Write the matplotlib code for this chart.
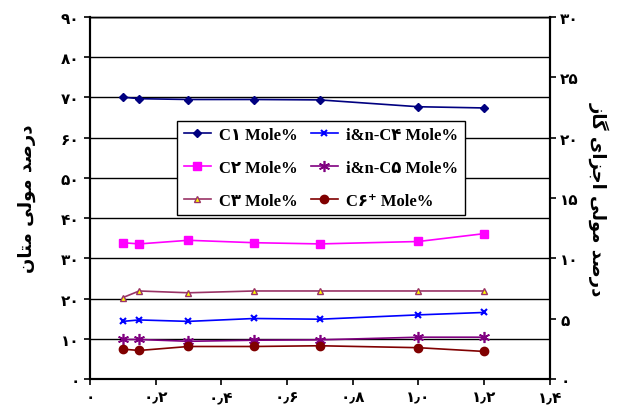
import matplotlib
matplotlib.use('Agg')
import matplotlib.pyplot as plt

# x positions and mole percent values
x = [0.1, 0.15, 0.3, 0.5, 0.7, 1.0, 1.2]
c1 = [70.1, 69.7, 69.5, 69.5, 69.4, 67.7, 67.4]      # left axis
c2 = [11.3, 11.2, 11.5, 11.3, 11.2, 11.4, 12.05]      # right axis
c3 = [6.75, 7.3, 7.15, 7.3, 7.3, 7.3, 7.3]
c4 = [4.78, 4.9, 4.78, 5.02, 4.96, 5.32, 5.52]
c5 = [3.28, 3.28, 3.13, 3.22, 3.25, 3.47, 3.47]
c6 = [2.48, 2.37, 2.7, 2.7, 2.76, 2.6, 2.29]

fa = '۰۱۲۳۴۵۶۷۸۹'
def fdig(s):
    return ''.join(fa[int(ch)] if ch.isdigit() else ch for ch in s)

left_ticks = list(range(0, 91, 10))
right_ticks = list(range(0, 31, 5))
x_ticks = [0, 0.2, 0.4, 0.6, 0.8, 1.0, 1.2, 1.4]
x_labels = ['۰'] + [fdig('%.1f' % v).replace('.', '٫') for v in x_ticks[1:]]

# pre-shaped Persian labels (visual order, presentation forms)
ylabel_left = '\uFEE5\uFE8E\uFE98\uFEE3 \uFBFD\uFEDF\uFEEE\uFEE3 \uFEAA\uFEBB\uFEAD\uFEA9'
ylabel_right = '\uFEAF\uFE8E\uFB94 \uFBFC\uFE8D\uFEB0\uFE9F\uFE8D \uFBFD\uFEDF\uFEEE\uFEE3 \uFEAA\uFEBB\uFEAD\uFEA9'

fig = plt.figure(figsize=(6.29, 4.10), dpi=100)
ax = fig.add_axes([0.143, 0.073, 0.731, 0.883])
ax2 = ax.twinx()

ax.set_xlim(0, 1.4)
ax.set_ylim(0, 90)
ax2.set_ylim(0, 30)

for v in left_ticks[1:]:
    ax.axhline(v, color='black', lw=1.0, zorder=0)

l1, = ax.plot(x, c1, color='#000080', marker='D', ms=4.5, lw=1.2, label='C۱ Mole%')
l2, = ax2.plot(x, c2, color='#FF00FF', marker='s', ms=6, lw=1.2, label='C۲ Mole%')
l3, = ax2.plot(x, c3, color='#993366', marker='^', ms=5, mfc='#FFFF00', mec='#993366', lw=1.2, label='C۳ Mole%')
l4, = ax2.plot(x, c4, color='#0000FF', marker='x', ms=5, mew=1.5, lw=1.2, label='i&n-C۴ Mole%')
l5, = ax2.plot(x, c5, color='#800080', marker=(6, 2, 0), ms=8, mew=1.2, lw=1.2, label='i&n-C۵ Mole%')
l6, = ax2.plot(x, c6, color='#800000', marker='o', ms=6, lw=1.2, label='C۶⁺ Mole%')

tickfont = dict(family='DejaVu Sans', weight='bold', size=11)
ax.set_yticks(left_ticks)
ax.set_yticklabels([fdig(str(v)) for v in left_ticks], **tickfont)
ax2.set_yticks(right_ticks)
ax2.set_yticklabels([fdig(str(v)) for v in right_ticks], **tickfont)
ax.set_xticks(x_ticks)
ax.set_xticklabels(x_labels, **tickfont)

for a in (ax, ax2):
    a.tick_params(direction='out', length=4, width=1.2, color='black')
    for s in a.spines.values():
        s.set_linewidth(1.5)
        s.set_color('black')
    a.spines['top'].set_linewidth(1.0)

ax.set_ylabel(ylabel_left, family='DejaVu Sans', weight='bold', size=13, labelpad=18)
ax2.set_ylabel(ylabel_right, family='DejaVu Sans', weight='bold', size=13, rotation=270, labelpad=22)

leg = ax.legend(handles=[l1, l2, l3, l4, l5, l6], ncol=2, loc='upper left',
                bbox_to_anchor=(0.172, 0.737), fancybox=False, edgecolor='black',
                framealpha=1, borderpad=0.4, handlelength=1.6, handletextpad=0.5,
                columnspacing=0.8, labelspacing=1.0,
                prop=dict(family=['Liberation Serif', 'DejaVu Sans'], weight='bold', size=12))
leg.get_frame().set_linewidth(1.0)
leg.set_zorder(5)

fig.savefig('out.png', dpi=100)
